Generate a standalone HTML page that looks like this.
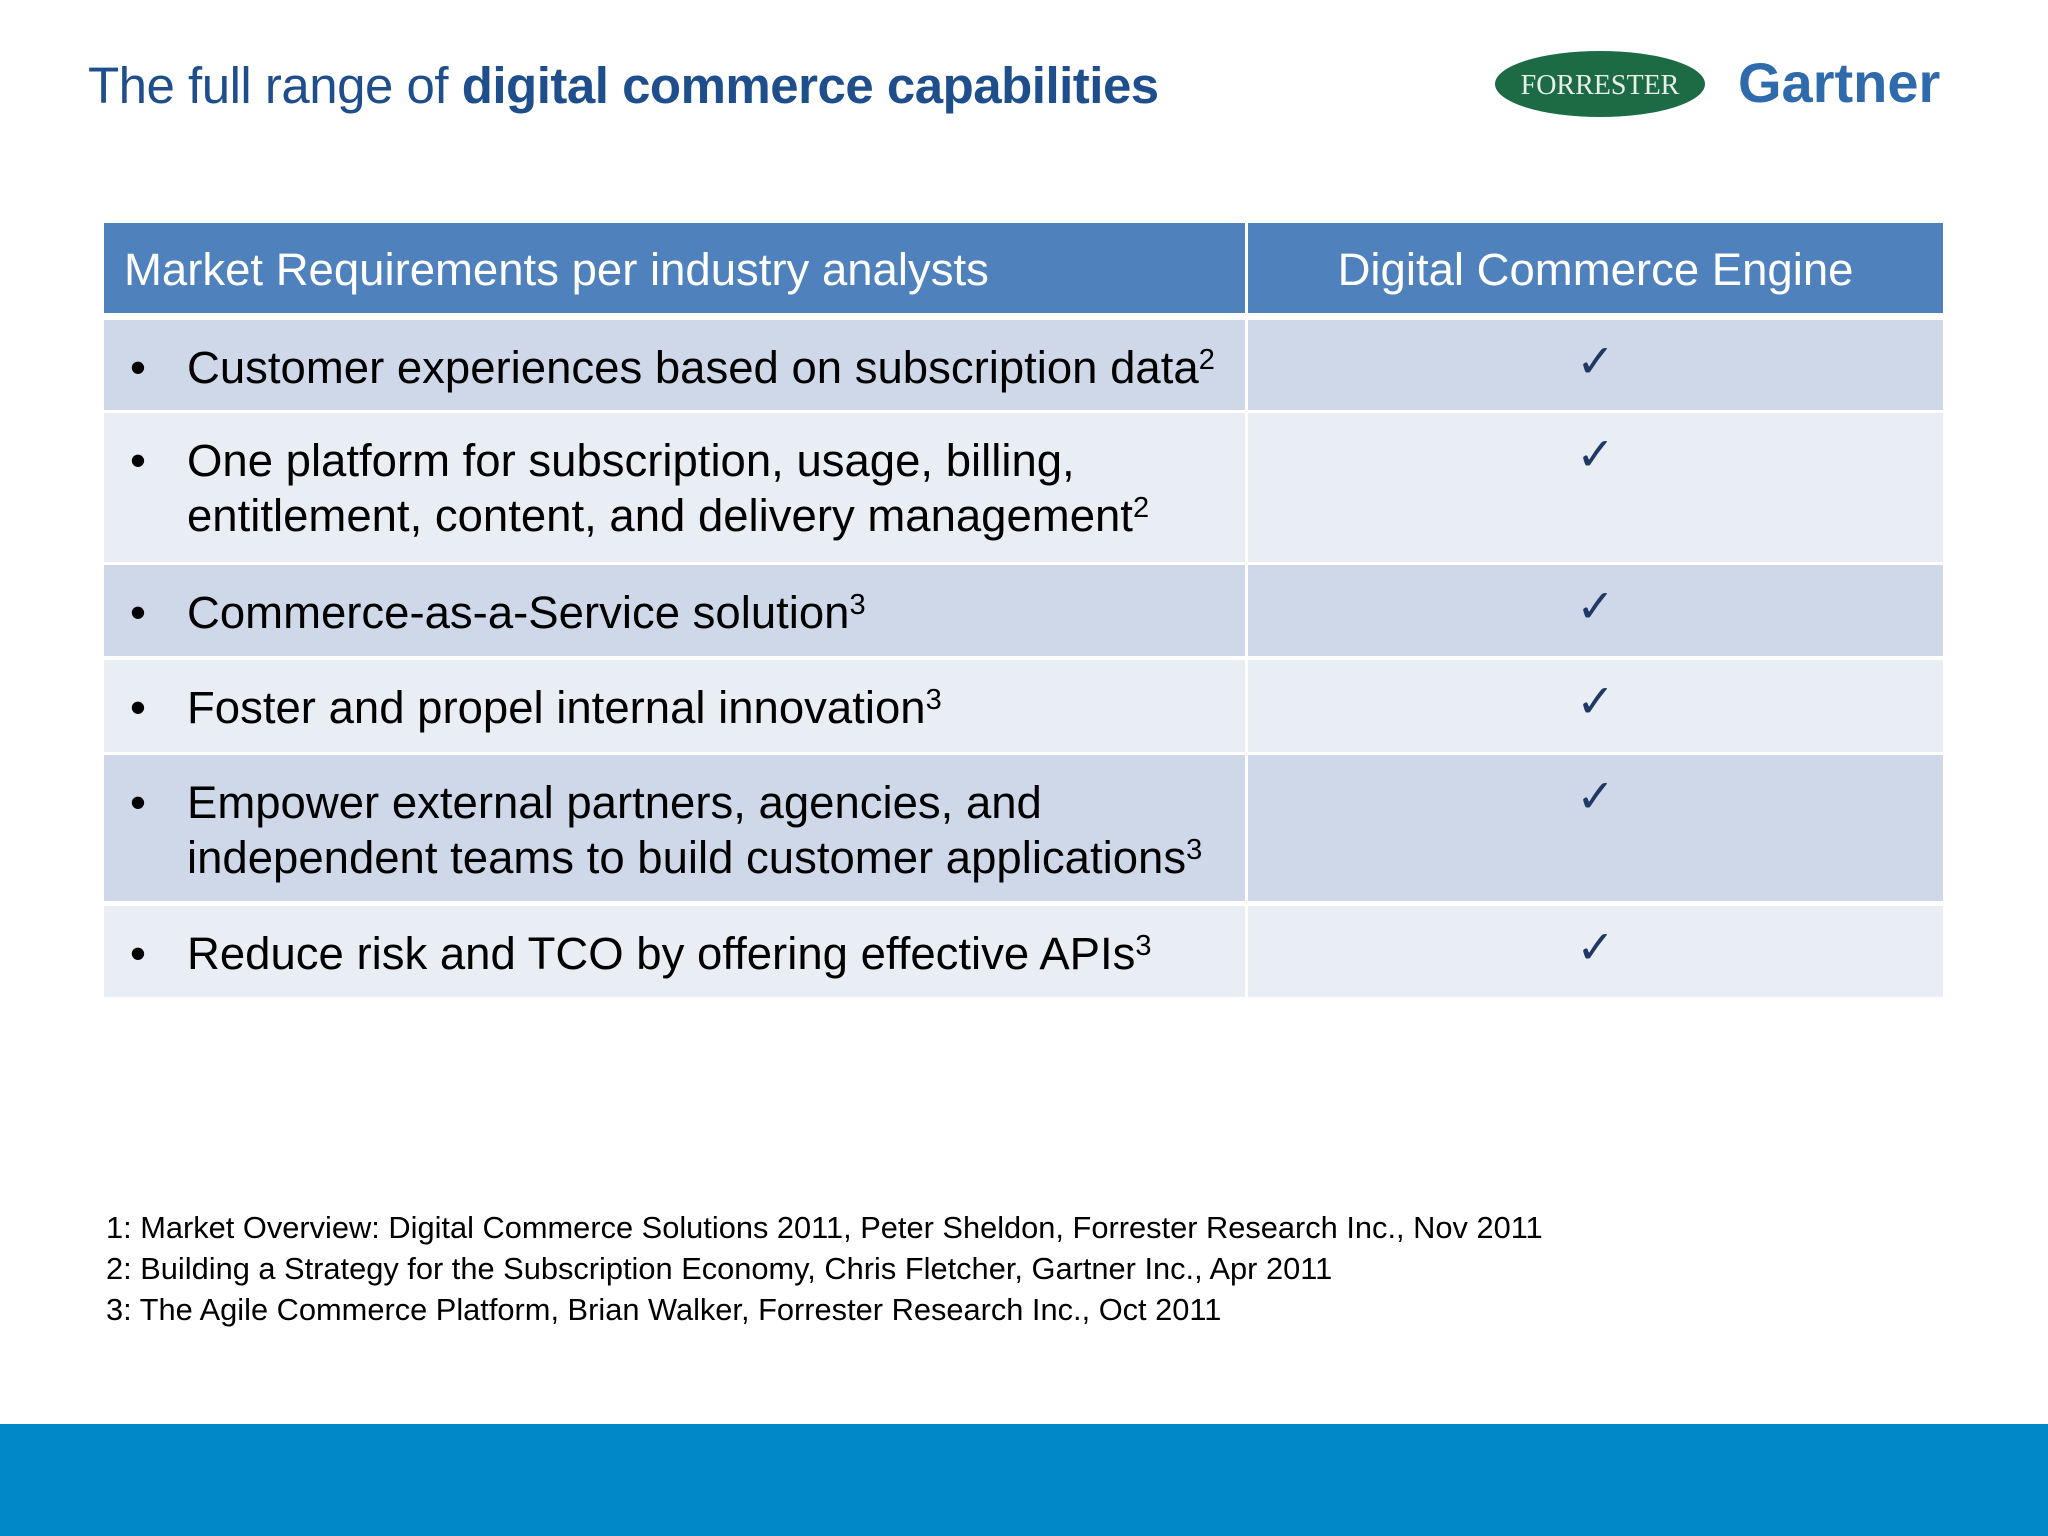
<!DOCTYPE html>
<html><head><meta charset="utf-8"><style>
body{margin:0;width:2048px;height:1536px;position:relative;background:#fff;font-family:"Liberation Sans",sans-serif;overflow:hidden}
.title{position:absolute;left:88px;top:56px;font-size:51px;color:#1f4e8c;font-family:"Liberation Sans",sans-serif;white-space:nowrap;letter-spacing:-0.5px}
.title b{font-weight:bold}
.cell{position:absolute;box-sizing:border-box}
.hdr{background:#4f81bd;color:#fff;font-size:45.5px;line-height:94px;height:90px}
.row{font-size:45.5px;color:#000;line-height:55px}
.bul{position:absolute;left:26px}
.txt{position:absolute;left:83px;white-space:nowrap}
.chk{position:absolute;width:100%;text-align:center;font-size:46px;color:#1f3864;font-weight:bold;font-family:"DejaVu Sans",sans-serif}
sup{font-size:29px;vertical-align:14px;line-height:0}
.fn{position:absolute;left:106px;font-size:30.8px;color:#000;white-space:nowrap}
</style></head><body>
<div class="title">The full range of <b>digital commerce capabilities</b></div>
<svg style="position:absolute;left:1490px;top:46px" width="460" height="90">
<ellipse cx="110" cy="38" rx="105" ry="33" fill="#1d6b44"/>
<text x="110" y="48" text-anchor="middle" font-family="Liberation Serif,serif" font-size="28" fill="#e8efe8">FORRESTER</text>
<text x="248" y="56" font-family="Liberation Sans,sans-serif" font-weight="bold" font-size="56" fill="#2f6aad">Gartner</text>
</svg>

<div class="cell hdr" style="left:104px;top:223px;width:1141px;padding-left:20px">Market Requirements per industry analysts</div>
<div class="cell hdr" style="left:1248px;top:223px;width:695px;text-align:center">Digital Commerce Engine</div>

<div id="rows"></div>

<div class="fn" style="top:1210px">1: Market Overview: Digital Commerce Solutions 2011, Peter Sheldon, Forrester Research Inc., Nov 2011</div>
<div class="fn" style="top:1251px">2: Building a Strategy for the Subscription Economy, Chris Fletcher, Gartner Inc., Apr 2011</div>
<div class="fn" style="top:1292px">3: The Agile Commerce Platform, Brian Walker, Forrester Research Inc., Oct 2011</div>

<div style="position:absolute;left:0;top:1424px;width:2048px;height:112px;background:#0088c8"></div>
<script>
const rows=[
 [320,410,'Customer experiences based on subscription data<sup>2</sup>'],
 [413,562,'One platform for subscription, usage, billing,<br>entitlement, content, and delivery management<sup>2</sup>'],
 [565,656,'Commerce-as-a-Service solution<sup>3</sup>'],
 [660,752,'Foster and propel internal innovation<sup>3</sup>'],
 [755,901,'Empower external partners, agencies, and<br>independent teams to build customer applications<sup>3</sup>'],
 [906,997,'Reduce risk and TCO by offering effective APIs<sup>3</sup>']
];
const c=document.getElementById('rows');
rows.forEach((r,i)=>{
 const bg=i%2?'#e9edf4':'#cfd8e8';
 const h=r[1]-r[0];
 const a=document.createElement('div');
 a.className='cell row';
 a.style.cssText=`left:104px;top:${r[0]}px;width:1141px;height:${h}px;background:${bg}`;
 
 
 a.innerHTML=`<span class="bul" style="top:20px">•</span><span class="txt" style="top:20px">${r[2]}</span>`;
 c.appendChild(a);
 const b=document.createElement('div');
 b.className='cell row';
 b.style.cssText=`left:1248px;top:${r[0]}px;width:695px;height:${h}px;background:${bg}`;
 
 
 b.innerHTML=`<span class="chk" style="top:14px">✓</span>`;
 c.appendChild(b);
});
</script>
</body></html>
